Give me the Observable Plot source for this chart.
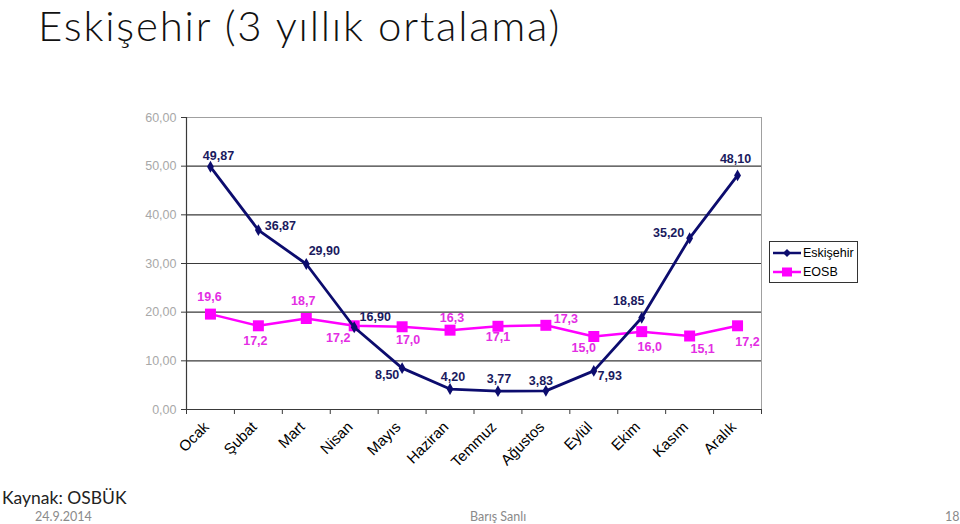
<!DOCTYPE html>
<html><head><meta charset="utf-8">
<script src="https://cdn.jsdelivr.net/npm/d3@7"></script>
<script src="https://cdn.jsdelivr.net/npm/@observablehq/plot@0.6"></script>
<style>
body{margin:0;background:#fff;width:960px;height:524px;overflow:hidden;position:relative;font-family:Lato,"Open Sans",sans-serif;}
#title{position:absolute;left:38px;top:0px;font-size:42px;line-height:normal;font-weight:300;color:#111;white-space:nowrap;letter-spacing:1.8px;}
#chart{position:absolute;left:0;top:95px;}
#legend{position:absolute;left:769px;top:241px;width:87px;height:40px;border:1px solid #333;background:#fff;font-family:Arial,"Liberation Sans",sans-serif;font-size:12.5px;color:#000;}
#legend .row{position:absolute;left:0;height:16px;display:flex;align-items:center;}
#legend svg{display:block}
#src{position:absolute;left:2px;top:489px;font-size:17.5px;line-height:18px;font-weight:400;color:#222;}
.foot{position:absolute;top:510px;font-size:12.5px;line-height:14px;color:#8a8a8a;}
</style></head>
<body>
<div id="title">Eskişehir (3 yıllık ortalama)</div>
<div id="chart"></div>
<div id="legend">
  <div class="row" style="top:3px"><svg width="33" height="16"><line x1="3" x2="31" y1="8" y2="8" stroke="#0c0c6e" stroke-width="2.5"/><path d="M17,4 L21,8 L17,12 L13,8Z" fill="#0c0c6e"/></svg><span>Eskişehir</span></div>
  <div class="row" style="top:22px"><svg width="33" height="16"><line x1="3" x2="31" y1="8" y2="8" stroke="#ff00ff" stroke-width="2.5"/><rect x="12" y="3.5" width="10" height="9" fill="#ff00ff"/></svg><span>EOSB</span></div>
</div>
<div id="src">Kaynak: OSBÜK</div>
<div class="foot" style="left:35px">24.9.2014</div>
<div class="foot" style="left:470px">Barış Sanlı</div>
<div class="foot" style="left:945px">18</div>
<script>
const months = ["Ocak","Şubat","Mart","Nisan","Mayıs","Haziran","Temmuz","Ağustos","Eylül","Ekim","Kasım","Aralık"];
const eskisehir = [49.87, 36.87, 29.90, 16.90, 8.50, 4.20, 3.77, 3.83, 7.93, 18.85, 35.20, 48.10];
const eosb = [19.6, 17.2, 18.7, 17.2, 17.0, 16.3, 17.1, 17.3, 15.0, 16.0, 15.1, 17.2];
const yTicks = [0, 10, 20, 30, 40, 50, 60];

// label offsets (layout only)
const eskOffset = [[8,-11],[22,-4],[18,-13],[21,-10],[-15,7],[3,-12],[1,-12],[-5,-10],[16,5],[-13,-17],[-21,-5],[-2,-16]];
const eosbOffset = [[-1,-17],[-3,15],[-3,-17],[-16,12],[6,13],[2,-12],[0,11],[20,-6],[-10,11],[8,15],[13,13],[10,16]];

const fmtY = d => d.toFixed(2).replace(".", ",");
const fmt2 = d => d.toFixed(2).replace(".", ",");
const fmt1 = d => d.toFixed(1).replace(".", ",");

const esk = months.map((m, i) => ({m, i, x: i + 0.5, v: eskisehir[i]}));
const eo = months.map((m, i) => ({m, i, x: i + 0.5, v: eosb[i]}));

const font = "Arial, 'Liberation Sans', sans-serif";
const labelStyle = {fontFamily: font, fontWeight: "bold", fontSize: 12.5};

const marks = [
  Plot.frame({stroke: "#a0a0a0"}),
  Plot.ruleY(yTicks.filter(d => d > 0 && d < 60), {stroke: "#3a3a3a", strokeWidth: 1.2}),
  Plot.axisY({ticks: yTicks, tickFormat: fmtY, tickSize: 5, tickPadding: 5, stroke: "#3a3a3a", color: "#a8a8a8", fontSize: 12.5, fontFamily: font, label: null}),
  Plot.axisX({ticks: d3.range(0, 13), tickFormat: () => "", tickSize: 5, stroke: "#3a3a3a", label: null}),
  Plot.axisX({ticks: esk.map(d => d.x), tickFormat: d => months[Math.floor(d)], tickSize: 0, tickPadding: 15, dx: -4, tickRotate: -45, color: "#000", fontSize: 15, fontFamily: font, label: null}),
  Plot.ruleY([0], {stroke: "#3a3a3a", strokeWidth: 1.2}),
  Plot.ruleX([0], {stroke: "#3a3a3a", strokeWidth: 1.2}),
  Plot.line(eo, {x: "x", y: "v", stroke: "#ff00ff", strokeWidth: 2.5}),
  Plot.dot(eo, {x: "x", y: "v", symbol: "square", r: 6.2, fill: "#ff00ff", stroke: "none"}),
  Plot.line(esk, {x: "x", y: "v", stroke: "#0c0c6e", strokeWidth: 2.8}),
  Plot.dot(esk, {x: "x", y: "v", symbol: "diamond", r: 3.6, fill: "#0c0c6e", stroke: "none"}),
  ...esk.map((d, i) => Plot.text([d], {x: "x", y: "v", text: d => fmt2(d.v), dx: eskOffset[i][0], dy: eskOffset[i][1], fill: "#1a1a5e", ...labelStyle})),
  ...eo.map((d, i) => Plot.text([d], {x: "x", y: "v", text: d => fmt1(d.v), dx: eosbOffset[i][0], dy: eosbOffset[i][1], fill: "#e32ee3", ...labelStyle}))
];

const chart = Plot.plot({
  width: 960,
  height: 400,
  marginLeft: 186,
  marginRight: 199,
  marginTop: 22,
  marginBottom: 86,
  x: {domain: [0, 12], axis: null},
  y: {domain: [0, 60], axis: null},
  style: {background: "transparent", overflow: "visible"},
  marks
});
document.getElementById("chart").appendChild(chart);
</script>
</body></html>
